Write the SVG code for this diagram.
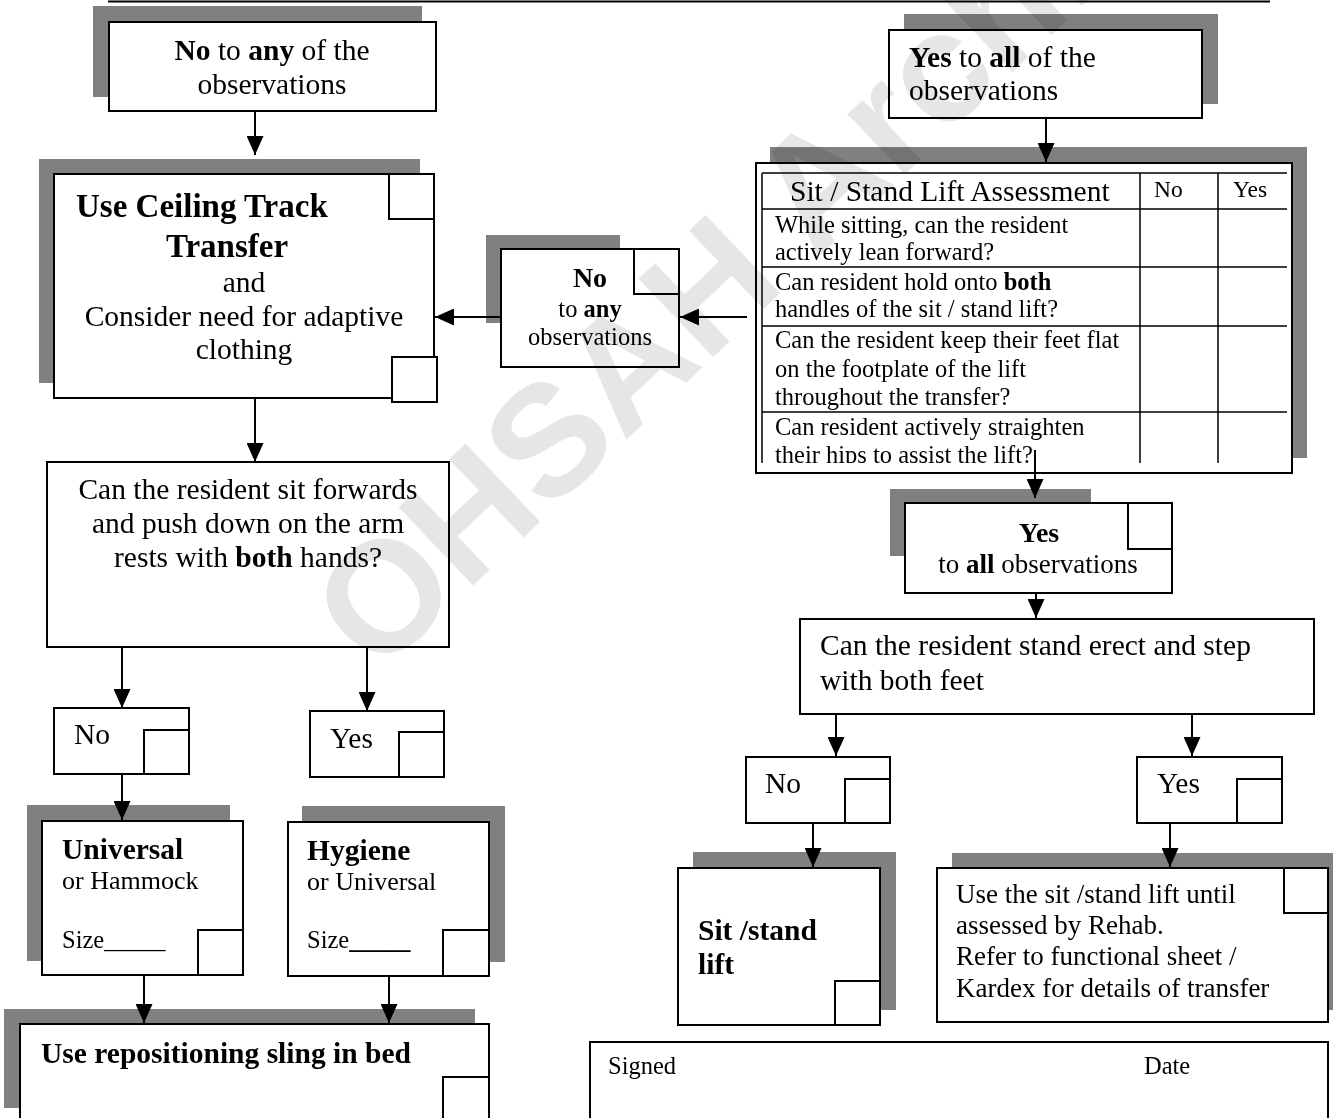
<svg xmlns="http://www.w3.org/2000/svg" width="1333" height="1118" viewBox="0 0 1333 1118">
<style>
.sh{fill:#808080}
.box{fill:#fff;stroke:#000;stroke-width:2}
.chk{fill:#fff;stroke:#000;stroke-width:2}
.grid{stroke:#000;stroke-width:1.5;fill:none}
text{font-family:"Liberation Serif","Times New Roman",serif;fill:#000}
.b{font-weight:bold}
.f29{font-size:29.5px}
.f28{font-size:28px}
.f27{font-size:27px}
.f26{font-size:26px}
.f24{font-size:24.5px}
.f23{font-size:23.5px}
.bold33{font-size:33px;font-weight:bold}
.mid{text-anchor:middle}
#connectors line{stroke:#000;stroke-width:2;marker-end:url(#ah)}
.wm{font-family:"Liberation Sans",Arial,sans-serif;font-weight:bold;font-size:157px;fill:#e6e6e6;mix-blend-mode:multiply}
</style>
<defs>
<marker id="ah" markerUnits="userSpaceOnUse" markerWidth="19" markerHeight="17" refX="19" refY="8.5" orient="auto">
<path d="M0,0 L19,8.5 L0,17 z" fill="#000"/>
</marker>
<clipPath id="tclip"><rect x="756" y="163" width="536" height="300"/></clipPath>
</defs>
<rect width="1333" height="1118" fill="#fff"/>
<line x1="108" y1="1.5" x2="1270" y2="1.5" stroke="#000" stroke-width="2"/>

<g id="no-to-any-top">
<rect class="sh" x="93" y="6" width="329" height="91"/>
<rect class="box" x="109" y="22" width="327" height="89"/>
<text class="f29 mid" x="272" y="60"><tspan class="b">No</tspan> to <tspan class="b">any</tspan> of the</text>
<text class="f29 mid" x="272" y="94">observations</text>
</g>

<g id="ceiling-track">
<rect class="sh" x="39" y="159" width="381" height="224"/>
<rect class="box" x="54" y="174" width="380" height="224"/>
<rect class="chk" x="389" y="174" width="45" height="45"/>
<rect class="chk" x="392" y="357" width="45" height="45"/>
<text class="bold33" x="76" y="217">Use Ceiling Track</text>
<text class="bold33 mid" x="227" y="257">Transfer</text>
<text class="f29 mid" x="244" y="292">and</text>
<text class="f29 mid" x="244" y="326">Consider need for adaptive</text>
<text class="f29 mid" x="244" y="359">clothing</text>
</g>

<g id="no-to-any-mid">
<rect class="sh" x="486" y="235" width="134" height="88"/>
<rect class="box" x="501" y="249" width="178" height="118"/>
<rect class="chk" x="634" y="249" width="45" height="45"/>
<text class="f28 b mid" x="590" y="287">No</text>
<text class="f24 mid" x="590" y="317">to <tspan class="b">any</tspan></text>
<text class="f24 mid" x="590" y="345">observations</text>
</g>

<g id="sit-forwards-question">
<rect class="box" x="47" y="462" width="402" height="185"/>
<text class="f29 mid" x="248" y="499">Can the resident sit forwards</text>
<text class="f29 mid" x="248" y="533">and push down on the arm</text>
<text class="f29 mid" x="248" y="567">rests with <tspan class="b">both</tspan> hands?</text>
</g>

<g id="left-no">
<rect class="box" x="54" y="708" width="135" height="66"/>
<rect class="chk" x="144" y="730" width="45" height="44"/>
<text class="f29" x="74" y="744">No</text>
</g>

<g id="left-yes">
<rect class="box" x="310" y="711" width="134" height="66"/>
<rect class="chk" x="399" y="732" width="45" height="45"/>
<text class="f29" x="330" y="748">Yes</text>
</g>

<g id="universal-sling">
<rect class="sh" x="27" y="805" width="203" height="156"/>
<rect class="box" x="42" y="821" width="201" height="154"/>
<rect class="chk" x="198" y="930" width="45" height="45"/>
<text class="f29 b" x="62" y="859">Universal</text>
<text class="f26" x="62" y="889">or Hammock</text>
<text class="f24" x="62" y="948">Size_____</text>
</g>

<g id="hygiene-sling">
<rect class="sh" x="302" y="806" width="203" height="156"/>
<rect class="box" x="288" y="822" width="201" height="154"/>
<rect class="chk" x="443" y="930" width="46" height="46"/>
<text class="f29 b" x="307" y="860">Hygiene</text>
<text class="f26" x="307" y="890">or Universal</text>
<text class="f24" x="307" y="948">Size<tspan class="b">_____</tspan></text>
</g>

<g id="repositioning-sling">
<rect class="sh" x="4" y="1009" width="471" height="99"/>
<rect class="box" x="20" y="1024" width="469" height="110"/>
<rect class="chk" x="443" y="1077" width="46" height="50"/>
<text class="f29 b" x="41" y="1063">Use repositioning sling in bed</text>
</g>

<g id="yes-to-all-top">
<rect class="sh" x="904" y="14" width="314" height="90"/>
<rect class="box" x="889" y="30" width="313" height="88"/>
<text class="f29" x="909" y="67"><tspan class="b">Yes</tspan> to <tspan class="b">all</tspan> of the</text>
<text class="f29" x="909" y="100">observations</text>
</g>

<g id="sitstand-assessment">
<rect class="sh" x="770" y="147" width="537" height="311"/>
<rect class="box" x="756" y="163" width="536" height="310"/>
<path class="grid" d="M762,173 H1287 M762,209 H1287 M762,267 H1287 M762,326 H1287 M762,412 H1287 M762,173 V463 M1140,173 V463 M1218,173 V463"/>
<g clip-path="url(#tclip)">
<text class="f29" x="790" y="201">Sit / Stand Lift Assessment</text>
<text class="f23" x="1154" y="197">No</text>
<text class="f23" x="1233" y="197">Yes</text>
<text class="f24" x="775" y="233">While sitting, can the resident</text>
<text class="f24" x="775" y="260">actively lean forward?</text>
<text class="f24" x="775" y="290">Can resident hold onto <tspan class="b">both</tspan></text>
<text class="f24" x="775" y="317">handles of the sit / stand lift?</text>
<text class="f24" x="775" y="348">Can the resident keep their feet flat</text>
<text class="f24" x="775" y="377">on the footplate of the lift</text>
<text class="f24" x="775" y="405">throughout the transfer?</text>
<text class="f24" x="775" y="435">Can resident actively straighten</text>
<text class="f24" x="775" y="463">their hips to assist the lift?</text>
</g>
</g>

<g id="yes-to-all-mid">
<rect class="sh" x="890" y="489" width="201" height="67"/>
<rect class="box" x="905" y="503" width="267" height="90"/>
<rect class="chk" x="1128" y="503" width="44" height="46"/>
<text class="f28 b mid" x="1039" y="542">Yes</text>
<text class="f27 mid" x="1038" y="573">to <tspan class="b">all</tspan> observations</text>
</g>

<g id="stand-erect-question">
<rect class="box" x="800" y="619" width="514" height="95"/>
<text class="f29" x="820" y="655">Can the resident stand erect and step</text>
<text class="f29" x="820" y="690">with both feet</text>
</g>

<g id="right-no">
<rect class="box" x="746" y="757" width="144" height="66"/>
<rect class="chk" x="845" y="779" width="45" height="44"/>
<text class="f29" x="765" y="793">No</text>
</g>

<g id="right-yes">
<rect class="box" x="1137" y="757" width="145" height="66"/>
<rect class="chk" x="1237" y="779" width="45" height="44"/>
<text class="f29" x="1157" y="793">Yes</text>
</g>

<g id="sitstand-lift">
<rect class="sh" x="693" y="852" width="203" height="158"/>
<rect class="box" x="678" y="868" width="202" height="157"/>
<rect class="chk" x="835" y="981" width="45" height="44"/>
<text class="f29 b" x="698" y="940">Sit /stand</text>
<text class="f29 b" x="698" y="974">lift</text>
</g>

<g id="use-sitstand-until-rehab">
<rect class="sh" x="952" y="853" width="391" height="157"/>
<rect class="box" x="937" y="868" width="391" height="154"/>
<rect class="chk" x="1284" y="868" width="44" height="45"/>
<text class="f27" x="956" y="903">Use the sit /stand lift until</text>
<text class="f27" x="956" y="934">assessed by Rehab.</text>
<text class="f27" x="956" y="965">Refer to functional sheet /</text>
<text class="f27" x="956" y="997">Kardex for details of transfer</text>
</g>

<g id="signature">
<rect class="box" x="590" y="1042" width="738" height="100"/>
<text class="f24" x="608" y="1074">Signed</text>
<text class="f24" x="1144" y="1074">Date</text>
</g>

<g id="connectors">
<line x1="255" y1="111" x2="255" y2="155"/>
<line x1="255" y1="398" x2="255" y2="462"/>
<line x1="122" y1="647" x2="122" y2="708"/>
<line x1="367" y1="647" x2="367" y2="711"/>
<line x1="122" y1="774" x2="122" y2="820"/>
<line x1="144" y1="975" x2="144" y2="1023"/>
<line x1="389" y1="976" x2="389" y2="1023"/>
<line x1="747" y1="317" x2="680" y2="317"/>
<line x1="501" y1="317" x2="435" y2="317"/>
<line x1="1046" y1="118" x2="1046" y2="162"/>
<line x1="1035" y1="450" x2="1035" y2="498"/>
<line x1="1036" y1="593" x2="1036" y2="618"/>
<line x1="836" y1="714" x2="836" y2="756"/>
<line x1="1192" y1="714" x2="1192" y2="756"/>
<line x1="813" y1="823" x2="813" y2="867"/>
<line x1="1170" y1="823" x2="1170" y2="867"/>
</g>

<text class="wm" x="377" y="677" transform="rotate(-43.6 377 677)">OHSAH Archive</text>
</svg>
